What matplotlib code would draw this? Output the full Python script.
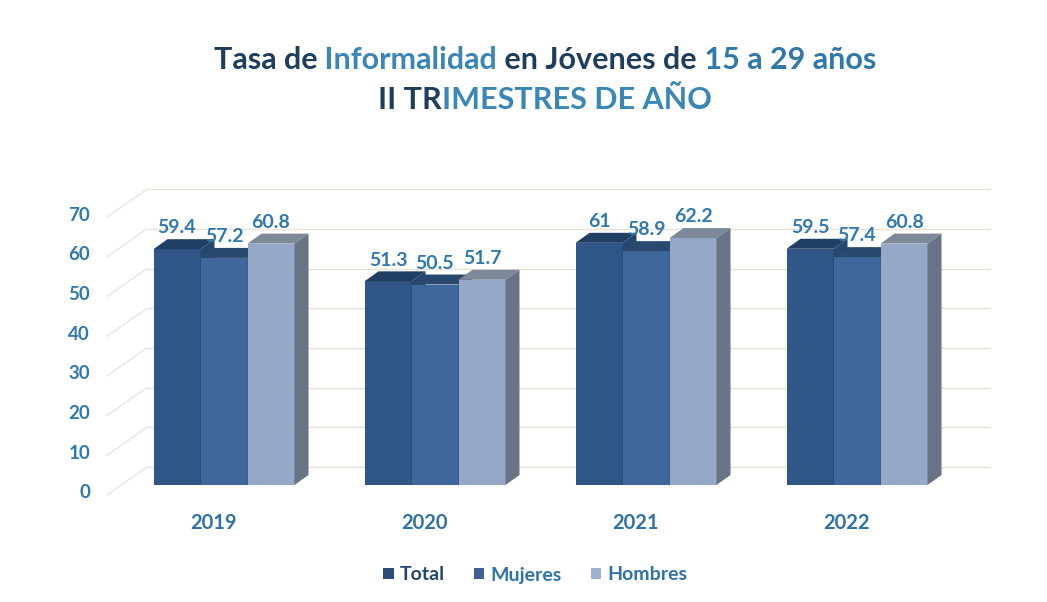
import matplotlib
matplotlib.use("Agg")
import matplotlib.pyplot as plt
from matplotlib.patches import Polygon, Patch

# ------------------------------------------------------------
# Datos
# ------------------------------------------------------------
years = ["2019", "2020", "2021", "2022"]
series_names = ["Total", "Mujeres", "Hombres"]
total = [59.4, 51.3, 61.0, 59.5]
mujeres = [57.2, 50.5, 58.9, 57.4]
hombres = [60.8, 51.7, 62.2, 60.8]
y_ticks = [0, 10, 20, 30, 40, 50, 60, 70]
value_labels = [["59.4", "51.3", "61", "59.5"],
                ["57.2", "50.5", "58.9", "57.4"],
                ["60.8", "51.7", "62.2", "60.8"]]

title_line1 = [("Tasa de", "#1f3e5e"), (" Informalidad", "#3a86b6"),
               (" en Jóvenes de", "#1f3e5e"), (" 15 a 29 años", "#2f78aa")]
title_line2 = [("II TR", "#1f3e5e"), ("IMESTRES DE AÑO", "#3a86b6")]

# colores: frente, techo, lado
front_colors = ["#2f5686", "#3f679c", "#95a8c7"]
top_colors = ["#213f63", "#29496f", "#7d8998"]
side_colors = ["#25466d", "#30557f", "#687484"]
legend_colors = ["#2a4e78", "#3f5f96", "#9fb0d2"]
text_blue = "#2f78b0"

FONT = ["Lato", "DejaVu Sans"]

W, H = 1047, 602
fig = plt.figure(figsize=(W / 100, H / 100), dpi=100)
fig.patch.set_facecolor("white")

# ejes: x de pixel 60 a 1010, y de pixel 92 a 432 (desde abajo)
px_unit_x = 211.0
px_unit_y = 3.97
left_px, right_px = 60, 1010
bot_px, top_px = 92, 432
x0_px = 224  # centro de la primera categoria
y0_px = H - 485  # base de las barras
ax = fig.add_axes([left_px / W, bot_px / H, (right_px - left_px) / W, (top_px - bot_px) / H])
ax.set_xlim((left_px - x0_px) / px_unit_x, (right_px - x0_px) / px_unit_x)
ax.set_ylim((bot_px - y0_px) / px_unit_y, (top_px - y0_px) / px_unit_y)
ax.axis("off")

# profundidad de las barras y del fondo (en unidades de datos)
bar_w = 47 / px_unit_x
dx = 14 / px_unit_x
dy = 10 / px_unit_y
back_dy = 18 / px_unit_y
front_dy = -10 / px_unit_y
wall_left = (147 - x0_px) / px_unit_x
wall_right = (990 - x0_px) / px_unit_x
wall_front_x = (107 - x0_px) / px_unit_x

# rejilla del fondo y lineas diagonales de la pared lateral
for v in y_ticks:
    ax.plot([wall_left, wall_right], [v + back_dy, v + back_dy],
            color="#e6e2d4", lw=1.0, zorder=1)
    ax.plot([wall_front_x, wall_left], [v + front_dy, v + back_dy],
            color="#e1e8e4", lw=1.0, zorder=1)
    ax.text(wall_front_x - 0.08, v - 2.0, str(v), ha="right", va="center",
            fontsize=13.5, fontweight="bold", color=text_blue, family=FONT)

# barras
all_series = [total, mujeres, hombres]
for i in range(len(years)):
    for s, vals in enumerate(all_series):
        h = vals[i]
        xl = i + (s - 1) * bar_w - bar_w / 2
        z = 3 + i * 10 + s * 3
        ax.bar(xl, h, width=bar_w, align="edge", color=front_colors[s],
               edgecolor="none", zorder=z)
        top = Polygon([(xl, h), (xl + bar_w, h), (xl + bar_w + dx, h + dy), (xl + dx, h + dy)],
                      closed=True, facecolor=top_colors[s], edgecolor="none", zorder=z + 1)
        side = Polygon([(xl + bar_w, 0), (xl + bar_w, h), (xl + bar_w + dx, h + dy),
                        (xl + bar_w + dx, dy)],
                       closed=True, facecolor=side_colors[s], edgecolor="none", zorder=z + 1)
        ax.add_patch(top)
        ax.add_patch(side)
        ax.annotate(value_labels[s][i], (xl + bar_w / 2, h + dy),
                    xytext=(0, 2), textcoords="offset points", ha="center", va="bottom",
                    fontsize=14, fontweight="bold", color=text_blue, family=FONT,
                    zorder=100)

# etiquetas de categorias
for i, yr in enumerate(years):
    ax.text(i - 0.05, -9.6, yr, ha="center", va="center", fontsize=14.5,
            fontweight="bold", color="#2f72a6", family=FONT, clip_on=False)

# titulo en varios colores
renderer = fig.canvas.get_renderer()


def text_width(s, size):
    t = fig.text(0, 0, s, fontsize=size, fontweight="bold", family=FONT)
    w = t.get_window_extent(renderer=renderer).width
    t.remove()
    return w


def colored_line(pieces, y_px, size, cx_px=545):
    full = "".join(p for p, _ in pieces)
    total_w = text_width(full, size)
    start = cx_px - total_w / 2
    prefix = ""
    for p, c in pieces:
        x = start + (text_width(prefix, size) if prefix else 0)
        fig.text(x / W, 1 - y_px / H, p, fontsize=size, fontweight="bold",
                 color=c, family=FONT, ha="left", va="center")
        prefix += p


colored_line(title_line1, 60, 22)
colored_line(title_line2, 100, 22)

# leyenda
handles = [Patch(facecolor=c, edgecolor="none") for c in legend_colors]
leg = fig.legend(handles, series_names, loc="center", bbox_to_anchor=(535 / W, 1 - 575 / H),
                 ncol=3, frameon=False, handlelength=0.55, handleheight=0.55,
                 handletextpad=0.3, columnspacing=1.5,
                 prop={"family": FONT, "weight": "bold", "size": 14})
for t, c in zip(leg.get_texts(), ["#24476e", "#2f72a8", "#2f72a8"]):
    t.set_color(c)

fig.savefig("out.png", dpi=100, facecolor="white")
